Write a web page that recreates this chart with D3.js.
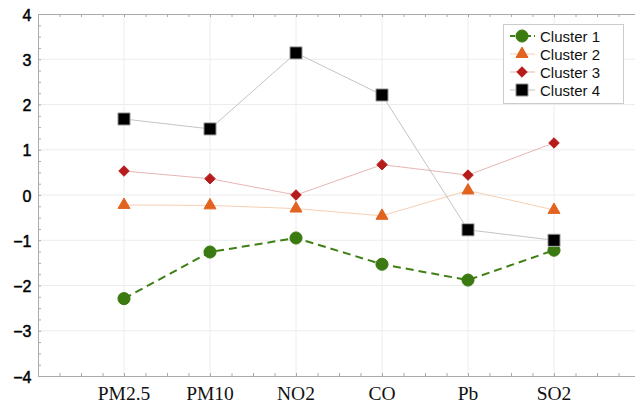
<!DOCTYPE html>
<html>
<head>
<meta charset="utf-8">
<script src="https://cdn.jsdelivr.net/npm/d3@7"></script>
<style>
	body { margin: 0; background: #fff; }
	svg { display: block; }
	.ylab { font-family: "Liberation Sans", Arial, sans-serif; font-size: 16px; fill: #000; stroke: #000; stroke-width: 0.45px; }
	.xlab { font-family: "Liberation Serif", "Times New Roman", serif; font-size: 19.5px; fill: #111; }
	.legend text { font-family: "Liberation Sans", Arial, sans-serif; font-size: 15px; fill: #111; }
</style>
</head>
<body>
<svg width="635" height="405"></svg>
<script>
const categories = ['PM2.5', 'PM10', 'NO2', 'CO', 'Pb', 'SO2'];
const yTicks = [-4, -3, -2, -1, 0, 1, 2, 3, 4];
const clusterNames = ['Cluster 1', 'Cluster 2', 'Cluster 3', 'Cluster 4'];
const cluster1 = [-2.29, -1.26, -0.95, -1.53, -1.88, -1.22];
const cluster2 = [-0.22, -0.23, -0.30, -0.46, 0.10, -0.33];
const cluster3 = [0.53, 0.36, 0.00, 0.67, 0.44, 1.15];
const cluster4 = [1.68, 1.46, 3.14, 2.21, -0.77, -1.00];

const seriesValues = [cluster1, cluster2, cluster3, cluster4];
const styles = [
	{ line: '#3f7f14', width: 2, dash: '8,5', marker: d3.symbolCircle, size: 115, fill: '#3a7a10', stroke: '#3a7a10' },
	{ line: '#f7cfb3', width: 1, dash: null, marker: d3.symbolTriangle, size: 62, fill: '#e2621f', stroke: '#e2621f' },
	{ line: '#e8b5b5', width: 1, dash: null, marker: d3.symbolDiamond2, size: 70, fill: '#b71c1c', stroke: '#b71c1c' },
	{ line: '#c4c4c4', width: 1, dash: null, marker: d3.symbolSquare, size: 150, fill: '#000', stroke: '#bbb' }
];

const svg = d3.select('svg');
const plotLeft = 38, plotTop = 14, plotBottom = 376, plotRight = 640;

// position 0..7, categories at 1..6
const x = d3.scaleLinear().domain([0, 7]).range([plotLeft, plotRight]);
const y = d3.scaleLinear().domain([-4, 4]).range([plotBottom, plotTop]);

// grid
const g = svg.append('g');
g.selectAll('.vgrid').data(categories).enter().append('line')
	.attr('x1', (d, i) => x(i + 1)).attr('x2', (d, i) => x(i + 1))
	.attr('y1', plotTop).attr('y2', plotBottom)
	.attr('stroke', '#ececec').attr('stroke-width', 1);
g.selectAll('.hgrid').data(yTicks.slice(1, -1)).enter().append('line')
	.attr('x1', plotLeft).attr('x2', plotRight)
	.attr('y1', d => y(d)).attr('y2', d => y(d))
	.attr('stroke', '#ececec').attr('stroke-width', 1);

// axes with inward ticks
const minorX = d3.range(0, 7.01, 0.25);
const minorY = d3.range(-4, 4.01, 0.25);
const axisColor = '#aaa';

svg.append('g').attr('transform', `translate(0,${plotBottom})`)
	.call(d3.axisTop(x).tickValues(minorX).tickSize(3).tickFormat('').tickSizeOuter(0))
	.call(a => a.select('.domain').attr('stroke', axisColor))
	.call(a => a.selectAll('.tick line').attr('stroke', axisColor));
svg.append('g').attr('transform', `translate(0,${plotTop})`)
	.call(d3.axisBottom(x).tickValues(minorX).tickSize(3).tickFormat('').tickSizeOuter(0))
	.call(a => a.select('.domain').attr('stroke', axisColor))
	.call(a => a.selectAll('.tick line').attr('stroke', axisColor));
svg.append('g').attr('transform', `translate(${plotLeft},0)`)
	.call(d3.axisRight(y).tickValues(minorY).tickSize(3).tickFormat('').tickSizeOuter(0))
	.call(a => a.select('.domain').attr('stroke', axisColor))
	.call(a => a.selectAll('.tick line').attr('stroke', axisColor));

// tick labels
svg.selectAll('.ylab').data(yTicks).enter().append('text')
	.attr('class', 'ylab')
	.attr('x', 31.5).attr('y', d => y(d) + 6.5)
	.attr('text-anchor', 'end')
	.text(d => d < 0 ? '\u2212' + Math.abs(d) : d);
svg.selectAll('.xlab').data(categories).enter().append('text')
	.attr('class', 'xlab')
	.attr('x', (d, i) => x(i + 1)).attr('y', 400)
	.attr('text-anchor', 'middle')
	.text(d => d);

// series
const line = d3.line().x((d, i) => x(i + 1)).y(d => y(d));
seriesValues.forEach((vals, k) => {
	const s = styles[k];
	svg.append('path').datum(vals)
		.attr('d', line)
		.attr('fill', 'none')
		.attr('stroke', s.line)
		.attr('stroke-width', s.width)
		.attr('stroke-dasharray', s.dash);
});
seriesValues.forEach((vals, k) => {
	const s = styles[k];
	svg.selectAll('.m' + k).data(vals).enter().append('path')
		.attr('d', d3.symbol().type(s.marker).size(s.size))
		.attr('transform', (d, i) => `translate(${x(i + 1)},${y(d)})`)
		.attr('fill', s.fill)
		.attr('stroke', s.stroke)
		.attr('stroke-width', 1);
});

// legend
const legend = svg.append('g').attr('class', 'legend');
legend.append('rect')
	.attr('x', 503.5).attr('y', 24.5).attr('width', 120).attr('height', 79)
	.attr('fill', '#fff').attr('stroke', '#ccc');
clusterNames.forEach((name, k) => {
	const s = styles[k];
	const ly = 36 + k * 18;
	legend.append('line')
		.attr('x1', 510).attr('x2', 535).attr('y1', ly).attr('y2', ly)
		.attr('stroke', s.line).attr('stroke-width', s.width)
		.attr('stroke-dasharray', k === 0 ? '5,3' : null);
	legend.append('path')
		.attr('d', d3.symbol().type(s.marker).size(s.size))
		.attr('transform', `translate(522,${ly})`)
		.attr('fill', s.fill).attr('stroke', s.stroke);
	legend.append('text')
		.attr('x', 540).attr('y', ly + 5.5)
		.text(name);
});
</script>
</body>
</html>
